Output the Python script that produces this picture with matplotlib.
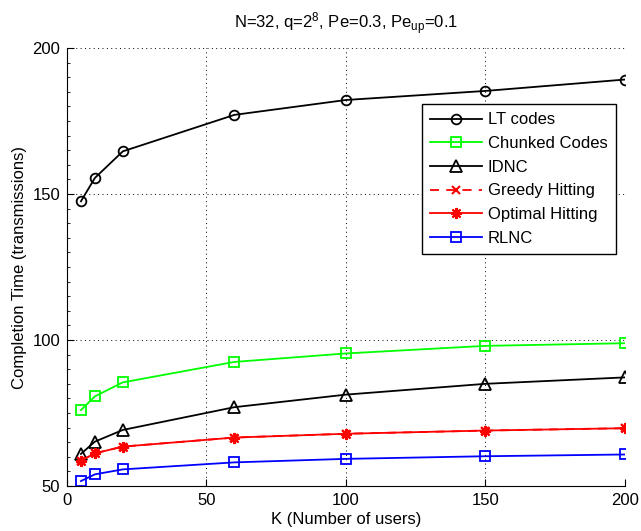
import numpy as np
import matplotlib
matplotlib.use('Agg')
import matplotlib.pyplot as plt
from matplotlib.ticker import MultipleLocator

plt.rcParams['font.family'] = ['Liberation Sans', 'DejaVu Sans']
plt.rcParams['mathtext.default'] = 'regular'

# number of users
K = [5, 10, 20, 60, 100, 150, 200]

# completion times
lt_codes = [147.5, 155.5, 164.6, 177.1, 182.2, 185.3, 189.2]
chunked = [76.0, 80.7, 85.5, 92.5, 95.4, 98.0, 98.9]
idnc = [61.0, 65.2, 69.2, 77.0, 81.3, 85.0, 87.2]
greedy = [58.7, 61.2, 63.5, 66.6, 67.9, 69.0, 69.8]
optimal = [58.7, 61.2, 63.5, 66.6, 67.9, 69.0, 69.8]
rlnc = [51.7, 54.0, 55.7, 58.1, 59.3, 60.2, 60.8]

fig = plt.figure(figsize=(6.41, 5.31), dpi=100)
ax = fig.add_axes([0.1045, 0.0847, 0.8705, 0.8249])

lw = 1.3
ms = 7
asterisk = (8, 2, 0)
ax.plot(K, lt_codes, '-o', color='k', lw=lw, ms=ms, mfc='none', mew=1.3, label='LT codes')
ax.plot(K, chunked, '-s', color='#00ff00', lw=lw, ms=6.5, mfc='none', mew=1.3, label='Chunked Codes')
ax.plot(K, idnc, '-^', color='k', lw=lw, ms=8, mfc='none', mew=1.3, label='IDNC')
ax.plot(K, greedy, linestyle=(0, (5, 4)), marker='x', color='r', lw=lw, ms=6, mew=1.5,
        label='Greedy Hitting')
ax.plot(K, optimal, '-', marker=asterisk, color='r', lw=lw, ms=8, mew=1.5, label='Optimal Hitting')
ax.plot(K, rlnc, '-s', color='b', lw=lw, ms=6.5, mfc='none', mew=1.3, label='RLNC')

ax.set_xlim(0, 200)
ax.set_ylim(50, 200)
ax.xaxis.set_major_locator(MultipleLocator(50))
ax.yaxis.set_major_locator(MultipleLocator(50))
ax.yaxis.set_minor_locator(MultipleLocator(5))
ax.tick_params(which='both', direction='in', top=False, right=False, labelsize=12)
ax.tick_params(which='major', length=5, pad=5)
ax.tick_params(which='minor', length=2.5)
ax.grid(True, which='major', linestyle=(0, (1, 3.5)), color='k', lw=0.7)
ax.spines['top'].set_visible(False)
ax.spines['right'].set_visible(False)

ax.set_xlabel('K (Number of users)', fontsize=12, labelpad=3)
ax.set_ylabel('Completion Time (transmissions)', fontsize=12, labelpad=4)
ax.set_title('N=32, q=2$^8$, Pe=0.3, Pe$_{up}$=0.1', fontsize=12, pad=14)

leg = ax.legend(loc='upper right', bbox_to_anchor=(0.984, 0.872), fontsize=12,
                fancybox=False, framealpha=1, edgecolor='k', borderaxespad=0,
                handlelength=3.1, labelspacing=0.52, handletextpad=0.35,
                borderpad=0.5)
leg.get_frame().set_linewidth(1.0)

fig.savefig('out.png', dpi=100)
